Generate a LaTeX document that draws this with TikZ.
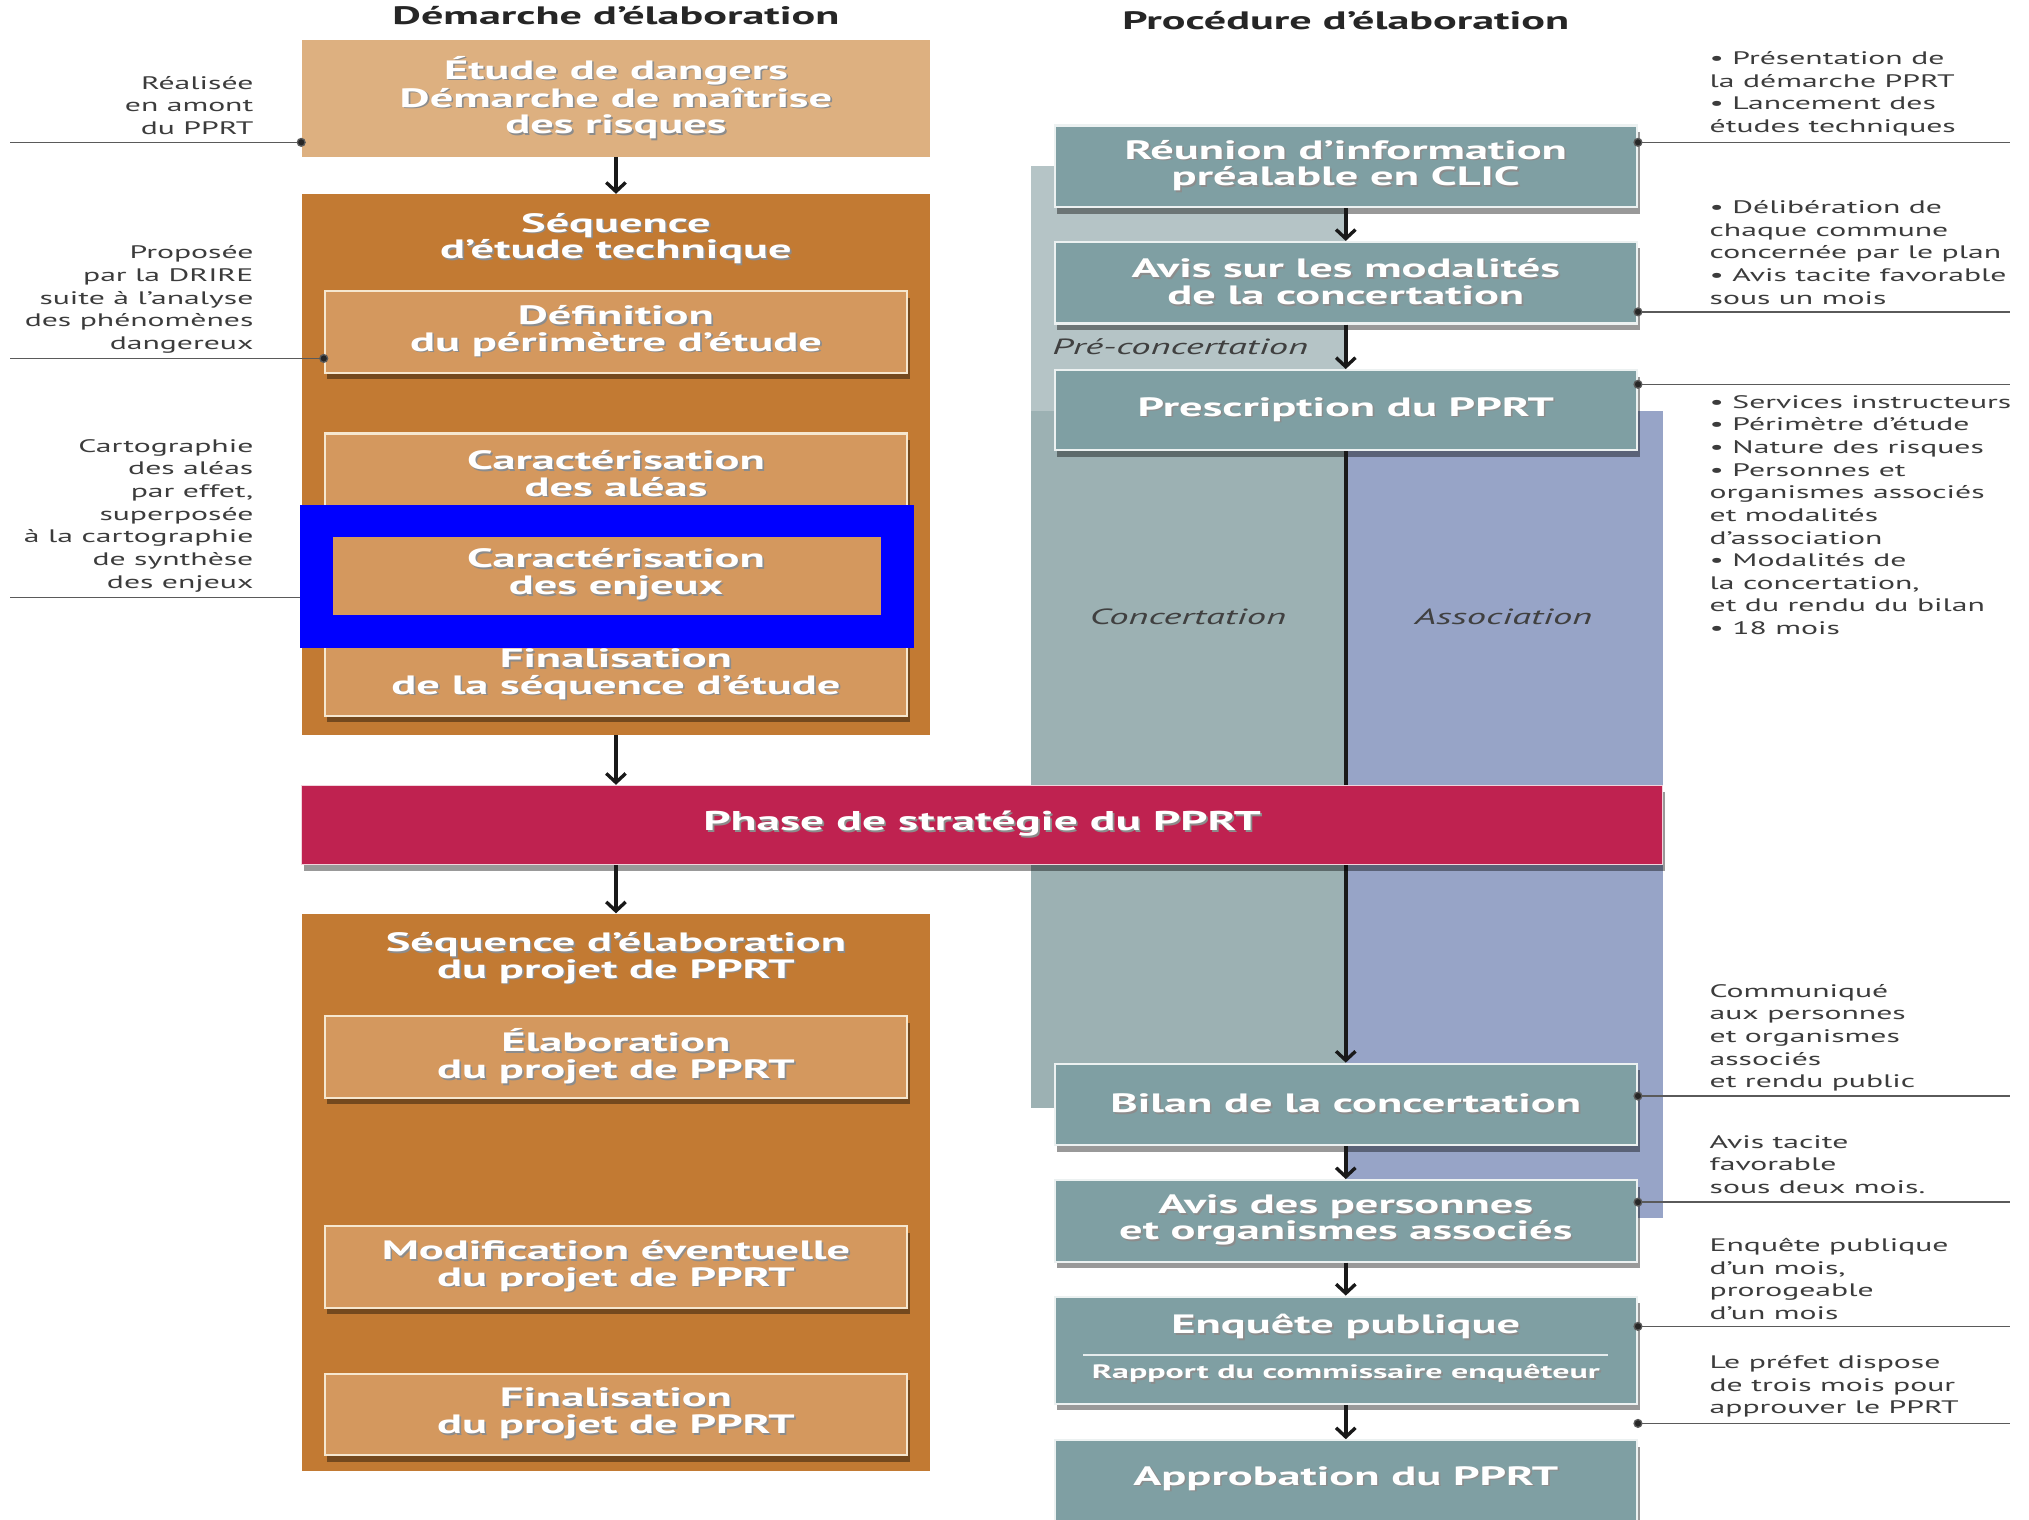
\documentclass[tikz,border=0pt]{standalone}
\usepackage{fontspec}
\setmainfont{PT Sans}[FakeStretch=1.75]
\usetikzlibrary{shadows,arrows.meta}
\definecolor{tanlight}{HTML}{DDB080}
\definecolor{tanbox}{HTML}{D4985E}
\definecolor{orangec}{HTML}{C27A33}
\definecolor{crimson}{HTML}{BF2250}
\definecolor{tealbox}{HTML}{7F9FA3}
\definecolor{precol}{HTML}{B5C4C6}
\definecolor{conccol}{HTML}{9CB1B3}
\definecolor{assoccol}{HTML}{97A4C7}
\definecolor{creamb}{HTML}{F6E7CF}
\definecolor{anncol}{HTML}{3C3C3C}
\definecolor{linecol}{HTML}{5A5A5A}
\definecolor{frameblue}{HTML}{0000FF}
\newcommand\shl[1]{\leavevmode\rlap{\kern1.3pt\raisebox{-1.3pt}{\textcolor{black!45}{#1}}}#1}
\begin{document}
\begin{tikzpicture}[x=1pt,y=-1pt,
  shd/.style={drop shadow={shadow xshift=2pt,shadow yshift=-5pt,opacity=0.4,fill=black}},
  btext/.style={text=white, font=\bfseries\fontsize{20.5}{20.5}\selectfont, align=center},
  tanb/.style={shd, btext, fill=tanbox, draw=creamb, line width=1.6pt, minimum width=450pt, minimum height=63pt, inner sep=0pt},
  tealb/.style={shd, btext, fill=tealbox, draw=white!85!tealbox, line width=1.6pt, minimum width=450pt, minimum height=63pt, inner sep=0pt},
  contb/.style={fill=orangec, minimum width=486pt, inner sep=0pt},
  ctitle/.style={btext, inner sep=0pt},
  ann/.style={font=\fontsize{14}{17.5}\selectfont, text=anncol, inner sep=0pt},
  annl/.style={ann, align=left, anchor=west},
  annr/.style={ann, align=right, anchor=east},
  aline/.style={draw=linecol, line width=1pt, -{Circle[length=7pt,fill=black!85]}, shorten >=-3.5pt},
  flow/.style={draw=black!90, line width=2.8pt, -{Straight Barb[length=7pt,width=15pt,line width=2.6pt]}},
  plabel/.style={font=\itshape\fontsize{17}{20}\selectfont, text=black!75, inner sep=0pt},
  ttl/.style={font=\bfseries\fontsize{19.5}{20}\selectfont, text=black!85, inner sep=0pt}
]
\useasboundingbox (0,0) rectangle (1568,1174);
\fill[white] (0,0) rectangle (1568,1174);

% titles
\node[ttl] (title1) at (476,12) {Démarche d'élaboration};
\node[ttl] (title2) at (1040,16) {Procédure d'élaboration};

% right background panels
\fill[precol] (797,128) rectangle (1040,318);
\fill[conccol] (797,318) rectangle (1040,856);
\fill[assoccol] (1040,318) rectangle (1285,941);
\node[plabel, anchor=west] (lpre) at (813,268) {Pré-concertation};
\node[plabel] (lconc) at (918,477) {Concertation};
\node[plabel] (lassoc) at (1162,477) {Association};

% right boxes
\node[tealb] (reunion) at (1040,128.5) {\shl{Réunion d’information}\\\shl{préalable en CLIC}};
\node[tealb] (avis1) at (1040,218.5) {\shl{Avis sur les modalités}\\\shl{de la concertation}};
\node[tealb, minimum height=62pt] (prescr) at (1040,317) {\shl{Prescription du PPRT}};
\node[tealb] (bilan) at (1040,853.5) {\shl{Bilan de la concertation}};
\node[tealb] (avis2) at (1040,943.5) {\shl{Avis des personnes}\\\shl{et organismes associés}};
\node[tealb, minimum height=83pt] (enquete) at (1040,1043.5) {};
\node[btext, inner sep=0pt] (enqt) at (1040,1026) {\shl{Enquête publique}};
\draw[white!80!tealbox, line width=1.5pt] (837,1047) -- (1243,1047);
\node[btext, font=\bfseries\fontsize{15}{17}\selectfont, inner sep=0pt] (enqr) at (1040,1062) {\shl{Rapport du commissaire enquêteur}};
\node[tealb, minimum height=67pt] (approb) at (1040,1146.5) {};
\node[btext, inner sep=0pt] (approbt) at (1040,1143) {\shl{Approbation du PPRT}};

\draw[flow] (reunion) -- (avis1);
\draw[flow] (avis1) -- (prescr);
\draw[flow] (prescr) -- (bilan);
\draw[flow] (bilan) -- (avis2);
\draw[flow] (avis2) -- (enquete);
\draw[flow] (enquete) -- (approb);

% left column
\node[fill=tanlight, minimum width=486pt, minimum height=90pt, inner sep=0pt, btext] (top) at (476,76) {\shl{Étude de dangers}\\\shl{Démarche de maîtrise}\\\shl{des risques}};
\node[contb, minimum height=418pt] (cont1) at (476,359) {};
\node[ctitle] (t1) at (476,185) {\shl{Séquence}\\\shl{d’étude technique}};
\node[tanb] (def) at (476,256.5) {\shl{Définition}\\\shl{du périmètre d’étude}};
\node[tanb] (aleas) at (476,366.5) {\shl{Caractérisation}\\\shl{des aléas}};
\node[tanb] (enjeux) at (476,444.5) {\shl{Caractérisation}\\\shl{des enjeux}};
\node[tanb] (fin1) at (476,521.5) {\shl{Finalisation}\\\shl{de la séquence d’étude}};

\node[contb, minimum height=431pt] (cont2) at (476,921.5) {};
\node[ctitle] (t2) at (476,741) {\shl{Séquence d’élaboration}\\\shl{du projet de PPRT}};
\node[tanb] (elab) at (476,817) {\shl{Élaboration}\\\shl{du projet de PPRT}};
\node[tanb] (modif) at (476,979) {\shl{Modification éventuelle}\\\shl{du projet de PPRT}};
\node[tanb] (fin2) at (476,1093) {\shl{Finalisation}\\\shl{du projet de PPRT}};

% phase
\node[shd, fill=crimson, draw=white!80!crimson, line width=1pt, minimum width=1052pt, minimum height=61pt, inner sep=0pt, btext, font=\bfseries\fontsize{21}{22}\selectfont] (phase) at (759,637.5) {\shl{Phase de stratégie du PPRT}};

\draw[flow] (top) -- (cont1);
\draw[flow] (cont1.south) -- (cont1.south |- phase.north);
\draw[flow] (phase.south -| cont2.north) -- (cont2.north);

% left annotations
\node[annr] (a1) at (196,81.5) {Réalisée\\en amont\\du PPRT};
\node[annr] (a2) at (196,231.5) {Proposée\\par la DRIRE\\suite à l’analyse\\des phénomènes\\dangereux};
\node[annr] (a3) at (196,398.5) {Cartographie\\des aléas\\par effet,\\superposée\\à la cartographie\\de synthèse\\des enjeux};
\coordinate (la1) at (8,110);
\coordinate (la2) at (8,277);
\coordinate (la3) at (8,462);
\draw[aline] (la1) -- (la1 -| top.west);
\draw[aline] (la2) -- (la2 -| def.west);
\draw[aline] (la3) -- (la3 -| enjeux.west);

% right annotations
\node[annl] (b1) at (1321,72.5) {• Présentation de\\la démarche PPRT\\• Lancement des\\études techniques};
\node[annl] (b2) at (1321,195) {• Délibération de\\chaque commune\\concernée par le plan\\• Avis tacite favorable\\sous un mois};
\node[annl] (b3) at (1321,398) {• Services instructeurs\\• Périmètre d’étude\\• Nature des risques\\• Personnes et\\organismes associés\\et modalités\\d’association\\• Modalités de\\la concertation,\\et du rendu du bilan\\• 18 mois};
\node[annl] (b4) at (1321,802) {Communiqué\\aux personnes\\et organismes\\associés\\et rendu public};
\node[annl] (b5) at (1321,900) {Avis tacite\\favorable\\sous deux mois.};
\node[annl] (b6) at (1321,988.5) {Enquête publique\\d’un mois,\\prorogeable\\d’un mois};
\node[annl] (b7) at (1321,1071.5) {Le préfet dispose\\de trois mois pour\\approuver le PPRT};
\coordinate (ra1) at (1553,110);
\coordinate (ra2) at (1553,241);
\coordinate (ra3) at (1553,297);
\coordinate (ra4) at (1553,847);
\coordinate (ra5) at (1553,929);
\coordinate (ra6) at (1553,1025);
\coordinate (ra7) at (1553,1100);
\draw[aline] (ra1) -- (ra1 -| reunion.east);
\draw[aline] (ra2) -- (ra2 -| avis1.east);
\draw[aline] (ra3) -- (ra3 -| prescr.east);
\draw[aline] (ra4) -- (ra4 -| bilan.east);
\draw[aline] (ra5) -- (ra5 -| avis2.east);
\draw[aline] (ra6) -- (ra6 -| enquete.east);
\draw[aline] (ra7) -- (ra7 -| enquete.east);

% blue highlight frame
\draw[frameblue, line width=25pt] (244.5,402.5) rectangle (693.5,488);
\end{tikzpicture}
\end{document}
